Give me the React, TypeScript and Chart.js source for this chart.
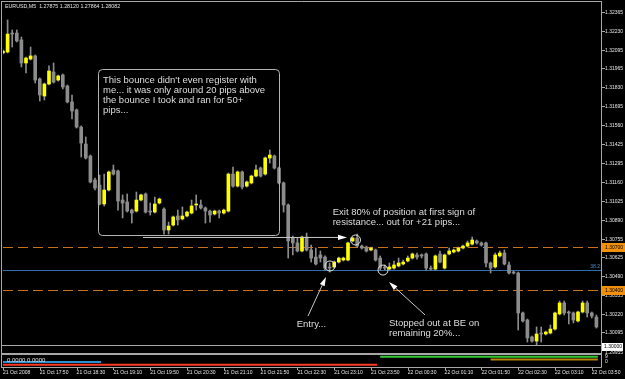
import React, { useEffect, useRef } from 'react';
import { Chart, registerables } from 'chart.js';

Chart.register(...registerables);

// ---------- DATA ----------
const opens = [
  1.32076, 1.32083, 1.32217, 1.32217, 1.32168, 1.32005, 1.32033, 1.32055, 1.31892, 1.31771,
  1.31856, 1.31941, 1.31884, 1.31920, 1.31842, 1.31729, 1.31672, 1.31551, 1.31431, 1.31346,
  1.31176, 1.31140, 1.31006, 1.31105, 1.31247, 1.31240, 1.31034, 1.31020, 1.30963, 1.30956,
  1.31034, 1.31077, 1.30956, 1.30949, 1.31013, 1.30970, 1.30822, 1.30857, 1.30921, 1.30900,
  1.30921, 1.30942, 1.30999, 1.30999, 1.30978, 1.30956, 1.30935, 1.30956, 1.30942, 1.30956,
  1.31218, 1.31133, 1.31233, 1.31133, 1.31155, 1.31204, 1.31261, 1.31218, 1.31332, 1.31346,
  1.31261, 1.31155, 1.30999, 1.30765, 1.30730, 1.30673, 1.30772, 1.30680, 1.30630, 1.30645,
  1.30630, 1.30560, 1.30560, 1.30595, 1.30609, 1.30609, 1.30744, 1.30765, 1.30708, 1.30701,
  1.30680, 1.30680, 1.30623, 1.30560, 1.30545, 1.30552, 1.30567, 1.30581, 1.30602, 1.30623,
  1.30645, 1.30645, 1.30652, 1.30552, 1.30545, 1.30652, 1.30552, 1.30652, 1.30666, 1.30673,
  1.30694, 1.30708, 1.30722, 1.30744, 1.30730, 1.30730, 1.30588, 1.30560, 1.30638, 1.30659,
  1.30574, 1.30524, 1.30517, 1.30234, 1.30184, 1.30064, 1.30035, 1.30092, 1.30085, 1.30092,
  1.30120, 1.30227, 1.30305, 1.30241, 1.30234, 1.30177, 1.30241, 1.30305, 1.30234, 1.30205,
];
const highs = [
  1.32097, 1.32310, 1.32239, 1.32239, 1.32189, 1.32047, 1.32118, 1.32062, 1.31899, 1.31863,
  1.31984, 1.32005, 1.31920, 1.31927, 1.31849, 1.31778, 1.31679, 1.31559, 1.31481, 1.31353,
  1.31190, 1.31211, 1.31218, 1.31240, 1.31282, 1.31247, 1.31070, 1.31077, 1.30970, 1.31091,
  1.31077, 1.31084, 1.31013, 1.31055, 1.31048, 1.30978, 1.30878, 1.30921, 1.30963, 1.30985,
  1.30956, 1.31034, 1.31070, 1.31034, 1.30985, 1.30963, 1.30963, 1.30963, 1.30970, 1.31226,
  1.31268, 1.31240, 1.31240, 1.31169, 1.31211, 1.31282, 1.31268, 1.31339, 1.31389, 1.31353,
  1.31268, 1.31162, 1.31006, 1.30779, 1.30765, 1.30779, 1.30800, 1.30715, 1.30694, 1.30673,
  1.30638, 1.30588, 1.30602, 1.30630, 1.30630, 1.30737, 1.30772, 1.30793, 1.30715, 1.30708,
  1.30701, 1.30687, 1.30638, 1.30574, 1.30588, 1.30602, 1.30623, 1.30609, 1.30638, 1.30659,
  1.30659, 1.30652, 1.30659, 1.30567, 1.30645, 1.30673, 1.30652, 1.30694, 1.30687, 1.30701,
  1.30715, 1.30744, 1.30772, 1.30751, 1.30737, 1.30737, 1.30595, 1.30659, 1.30673, 1.30680,
  1.30595, 1.30531, 1.30524, 1.30241, 1.30191, 1.30071, 1.30135, 1.30135, 1.30106, 1.30149,
  1.30241, 1.30319, 1.30319, 1.30248, 1.30241, 1.30248, 1.30319, 1.30319, 1.30241, 1.30220,
];
const lows = [
  1.32069, 1.32076, 1.32118, 1.32154, 1.31977, 1.31934, 1.32026, 1.31863, 1.31736, 1.31743,
  1.31849, 1.31863, 1.31877, 1.31821, 1.31722, 1.31608, 1.31544, 1.31339, 1.31325, 1.31155,
  1.31105, 1.30999, 1.30992, 1.31098, 1.31211, 1.30963, 1.30907, 1.30949, 1.30871, 1.30949,
  1.31027, 1.30942, 1.30928, 1.30942, 1.31006, 1.30793, 1.30793, 1.30850, 1.30857, 1.30893,
  1.30914, 1.30935, 1.30963, 1.30970, 1.30871, 1.30878, 1.30928, 1.30907, 1.30935, 1.30949,
  1.31126, 1.31126, 1.31112, 1.31126, 1.31148, 1.31197, 1.31197, 1.31211, 1.31296, 1.31254,
  1.31148, 1.30949, 1.30623, 1.30645, 1.30666, 1.30666, 1.30673, 1.30595, 1.30574, 1.30595,
  1.30538, 1.30524, 1.30552, 1.30588, 1.30602, 1.30602, 1.30737, 1.30701, 1.30687, 1.30666,
  1.30673, 1.30602, 1.30538, 1.30538, 1.30538, 1.30545, 1.30560, 1.30574, 1.30595, 1.30616,
  1.30616, 1.30623, 1.30538, 1.30538, 1.30538, 1.30588, 1.30545, 1.30645, 1.30659, 1.30666,
  1.30687, 1.30701, 1.30715, 1.30722, 1.30708, 1.30560, 1.30517, 1.30552, 1.30630, 1.30574,
  1.30510, 1.30510, 1.30113, 1.30170, 1.30028, 1.30028, 1.30007, 1.30028, 1.30078, 1.30085,
  1.30113, 1.30220, 1.30220, 1.30156, 1.30163, 1.30170, 1.30234, 1.30205, 1.30198, 1.30127,
];
const closes = [
  1.32090, 1.32210, 1.32210, 1.32161, 1.32005, 1.32040, 1.32055, 1.31884, 1.31778, 1.31856,
  1.31948, 1.31870, 1.31913, 1.31835, 1.31729, 1.31665, 1.31551, 1.31438, 1.31332, 1.31162,
  1.31119, 1.31006, 1.31105, 1.31233, 1.31218, 1.31027, 1.31013, 1.30956, 1.30942, 1.31034,
  1.31070, 1.30949, 1.30949, 1.31006, 1.31041, 1.30822, 1.30850, 1.30914, 1.30893, 1.30921,
  1.30949, 1.30992, 1.31006, 1.30978, 1.30956, 1.30928, 1.30956, 1.30942, 1.30963, 1.31218,
  1.31133, 1.31233, 1.31126, 1.31162, 1.31204, 1.31247, 1.31204, 1.31332, 1.31353, 1.31261,
  1.31155, 1.30999, 1.30744, 1.30730, 1.30673, 1.30772, 1.30680, 1.30623, 1.30581, 1.30623,
  1.30552, 1.30552, 1.30595, 1.30623, 1.30623, 1.30730, 1.30765, 1.30708, 1.30694, 1.30673,
  1.30694, 1.30609, 1.30552, 1.30552, 1.30560, 1.30574, 1.30588, 1.30595, 1.30623, 1.30652,
  1.30630, 1.30638, 1.30552, 1.30545, 1.30638, 1.30595, 1.30645, 1.30673, 1.30680, 1.30694,
  1.30708, 1.30730, 1.30751, 1.30730, 1.30715, 1.30588, 1.30552, 1.30645, 1.30659, 1.30581,
  1.30517, 1.30517, 1.30234, 1.30177, 1.30057, 1.30035, 1.30085, 1.30085, 1.30099, 1.30120,
  1.30234, 1.30305, 1.30234, 1.30234, 1.30184, 1.30241, 1.30305, 1.30234, 1.30212, 1.30135,
];

// M5 bar times, 21 Oct 17:10 onward (one extra slot for the right margin)
const barTimes: string[] = [];
for (let i = 0; i < 131; i++) {
  const t = 17 * 60 + 10 + 5 * i;
  const day = t >= 1440 ? 22 : 21;
  const m = t % 1440;
  barTimes.push(`${day} Oct ${String(Math.floor(m / 60)).padStart(2, '0')}:${String(m % 60).padStart(2, '0')}`);
}

const xTickLabels = [
  '21 Oct 2008', '21 Oct 17:50', '21 Oct 18:30', '21 Oct 19:10', '21 Oct 19:50', '21 Oct 20:30',
  '21 Oct 21:10', '21 Oct 21:50', '21 Oct 22:30', '21 Oct 23:10', '21 Oct 23:50', '22 Oct 00:30',
  '22 Oct 01:10', '22 Oct 01:50', '22 Oct 02:30', '22 Oct 03:10', '22 Oct 03:50',
];
const yTickValues = [
  1.32365, 1.32230, 1.32095, 1.31965, 1.31830, 1.31695, 1.31560, 1.31425, 1.31295,
  1.31160, 1.31025, 1.30890, 1.30755, 1.30625, 1.30490, 1.30355, 1.30220, 1.30095,
];
const Y_MIN = 1.30000;
const Y_MAX = 1.32430;

const dashedLevels = [1.30700, 1.30400];
const fibLevel = 1.30538;
const fibLabel = '38.2';
const markedPrices = [1.30700, 1.30400];
const bottomPrice = 1.30000;
const extraPriceLabel = 1.29955;

const headerText = 'EURUSD,M5  1.27875 1.28120 1.27864 1.28082';
const subText = '0.0000 0.0000';

// annotations in (bar index, price)
const noteBox = { from: [20.65, 1.31962], to: [60.07, 1.30786] };
const noteBoxText = ["This bounce didn't even register with", 'me... it was only around 20 pips above', 'the bounce I took and ran for 50+', 'pips...'];
const noteBoxTextAt = [21.74, 1.31884];
const exitText = ['Exit 80% of position at first sign of', 'resistance... out for +21 pips...'];
const exitTextAt = [71.67, 1.30944];
const entryText = ['Entry...'];
const entryTextAt = [63.85, 1.30156];
const stopText = ['Stopped out at BE on', 'remaining 20%...'];
const stopTextAt = [83.91, 1.30161];
const circles = [[76.63, 1.30751], [71.09, 1.30567], [82.61, 1.30538]];
const arrows = [
  { from: [30.43, 1.30769], to: [74.78, 1.30769] },
  { from: [66.3, 1.30212], to: [70.22, 1.30489] },
  { from: [91.74, 1.30220], to: [83.91, 1.30453] },
];

// sub-window indicator segments: [startBar, endBar]
const subSegments = [
  { range: [0, 21], color: '#2a8fd0', row: 3 },
  { range: [0, 81], color: '#ff3a24', row: 4 },
  { range: [82, 129], color: '#34c834', row: 1 },
  { range: [106, 129], color: '#b8860b', row: 2 },
];

// ---------- STYLE ----------
const SMALL_FONT = '"Liberation Sans", Arial, sans-serif';
const NOTE_FONT = '9.5px "Liberation Sans", Arial, sans-serif';
const AXIS_TEXT = '#e4e4e4';
const FRAME = '#a8a8a8';
const YELLOW = '#ffff00';
const GRAY = '#8c8c8c';
const ORANGE_LINE = '#c8701c';
const ORANGE_BOX = '#f0900c';
const BLUE_LINE = '#2f6ea8';
const NOTE_COLOR = '#dedede';
const CIRCLE_R = 5;

const mt4Plugin: any = {
  id: 'mt4',
  beforeDraw(chart: any) {
    const { ctx, width, height } = chart;
    ctx.save();
    ctx.fillStyle = '#000';
    ctx.fillRect(0, 0, width, height);
    ctx.restore();
  },
  beforeDatasetsDraw(chart: any) {
    const { ctx, chartArea: a, scales } = chart;
    const y = scales.y;
    ctx.save();
    ctx.beginPath();
    ctx.rect(a.left, a.top, a.right - a.left, a.bottom - a.top);
    ctx.clip();
    ctx.lineWidth = 1;
    ctx.strokeStyle = ORANGE_LINE;
    ctx.setLineDash([10, 5]);
    for (const v of dashedLevels) {
      const yy = Math.round(y.getPixelForValue(v)) + 0.5;
      ctx.beginPath();
      ctx.moveTo(a.left, yy);
      ctx.lineTo(a.right, yy);
      ctx.stroke();
    }
    ctx.setLineDash([]);
    ctx.strokeStyle = BLUE_LINE;
    const fy = Math.round(y.getPixelForValue(fibLevel)) + 0.5;
    ctx.beginPath();
    ctx.moveTo(a.left, fy);
    ctx.lineTo(a.right, fy);
    ctx.stroke();
    ctx.fillStyle = '#4a8ccc';
    ctx.font = `5px ${SMALL_FONT}`;
    ctx.textAlign = 'right';
    ctx.textBaseline = 'bottom';
    ctx.fillText(fibLabel, a.right - 1, fy - 1);
    ctx.restore();
  },
  afterDraw(chart: any) {
    const { ctx, chartArea: a, scales } = chart;
    const x = scales.x;
    const y = scales.y;
    const px = (i: number) => x.getPixelForValue(i);
    const py = (v: number) => y.getPixelForValue(v);
    const subTop = a.bottom + 7;
    const subBottom = a.bottom + 21;
    ctx.save();

    // bottom line of main window (price 1.30000)
    ctx.strokeStyle = FRAME;
    ctx.lineWidth = 1;
    const by = Math.round(py(bottomPrice)) - 0.5;
    ctx.beginPath(); ctx.moveTo(a.left - 2, by); ctx.lineTo(a.right, by); ctx.stroke();

    // frames
    ctx.beginPath();
    ctx.moveTo(a.left - 2, a.top - 1.5); ctx.lineTo(a.right + 0.5, a.top - 1.5);
    ctx.moveTo(a.left - 1.5, a.top - 2); ctx.lineTo(a.left - 1.5, subBottom + 0.5);
    ctx.moveTo(a.right + 0.5, a.top - 2); ctx.lineTo(a.right + 0.5, subBottom + 0.5);
    ctx.moveTo(a.left - 2, subBottom + 0.5); ctx.lineTo(a.right + 0.5, subBottom + 0.5);
    ctx.stroke();
    ctx.fillStyle = FRAME;
    ctx.fillRect(a.left - 2, subTop, a.right - a.left + 2, 2);

    // sub-window segments
    ctx.lineWidth = 2;
    for (const s of subSegments) {
      const yy = subTop + 1 + s.row * 2.7;
      ctx.strokeStyle = s.color;
      ctx.beginPath();
      ctx.moveTo(px(s.range[0]), yy);
      ctx.lineTo(px(s.range[1]) + 1.5, yy);
      ctx.stroke();
    }
    ctx.fillStyle = AXIS_TEXT;
    ctx.font = `6px ${SMALL_FONT}`;
    ctx.textAlign = 'left';
    ctx.textBaseline = 'middle';
    ctx.fillText(subText, a.left + 4, subTop + 7);
    ctx.font = `5px ${SMALL_FONT}`;
    ctx.fillText('9', a.right + 4, subTop + 4);
    ctx.fillText('0', a.right + 4, subTop + 9);

    // x tick marks
    ctx.strokeStyle = FRAME;
    ctx.lineWidth = 1;
    for (let k = 0; k < xTickLabels.length; k++) {
      const xx = Math.round(px(k * 8)) + 0.5;
      ctx.beginPath(); ctx.moveTo(xx, subBottom); ctx.lineTo(xx, subBottom + 3); ctx.stroke();
    }

    // header
    ctx.fillStyle = AXIS_TEXT;
    ctx.font = `5.3px ${SMALL_FONT}`;
    ctx.textAlign = 'left';
    ctx.textBaseline = 'middle';
    ctx.fillText(headerText, a.left + 2, a.top + 4);

    // price marks
    ctx.font = `5px ${SMALL_FONT}`;
    for (const v of markedPrices) {
      const yy = Math.round(py(v));
      ctx.fillStyle = ORANGE_BOX;
      ctx.fillRect(a.right + 1, yy - 4, 23, 9);
      ctx.fillStyle = '#000';
      ctx.fillText(v.toFixed(5), a.right + 4, yy + 0.5);
    }
    {
      const yy = Math.round(py(bottomPrice));
      ctx.fillStyle = '#ffffff';
      ctx.fillRect(a.right + 1, yy - 3, 21, 8);
      ctx.fillStyle = '#000';
      ctx.fillText(bottomPrice.toFixed(5), a.right + 3, yy + 1);
      ctx.fillStyle = AXIS_TEXT;
      const ey = py(extraPriceLabel);
      ctx.fillText(extraPriceLabel.toFixed(5), a.right + 4, ey);
    }

    // annotations
    ctx.strokeStyle = '#b4b4b4';
    ctx.lineWidth = 1;
    const bx0 = Math.round(px(noteBox.from[0])) + 0.5;
    const by0 = Math.round(py(noteBox.from[1])) + 0.5;
    const bx1 = Math.round(px(noteBox.to[0])) + 0.5;
    const by1 = Math.round(py(noteBox.to[1])) + 0.5;
    ctx.beginPath();
    (ctx as any).roundRect(bx0, by0, bx1 - bx0, by1 - by0, 4);
    ctx.stroke();

    ctx.font = NOTE_FONT;
    ctx.fillStyle = NOTE_COLOR;
    ctx.textAlign = 'left';
    ctx.textBaseline = 'middle';
    const drawLines = (lines: string[], at: number[]) => {
      const x0 = px(at[0]);
      const y0 = py(at[1]);
      lines.forEach((l, k) => ctx.fillText(l, x0, y0 + k * 10));
    };
    drawLines(noteBoxText, noteBoxTextAt);
    drawLines(exitText, exitTextAt);
    drawLines(entryText, entryTextAt);
    drawLines(stopText, stopTextAt);

    ctx.strokeStyle = '#e0e0e0';
    for (const c of circles) {
      ctx.beginPath();
      ctx.arc(px(c[0]), py(c[1]), CIRCLE_R, 0, Math.PI * 2);
      ctx.stroke();
    }
    ctx.fillStyle = '#ffffff';
    for (const ar of arrows) {
      const x0 = px(ar.from[0]), y0 = py(ar.from[1]);
      const x1 = px(ar.to[0]), y1 = py(ar.to[1]);
      const ang = Math.atan2(y1 - y0, x1 - x0);
      const len = 9, half = 2.6;
      const bxh = x1 - len * Math.cos(ang), byh = y1 - len * Math.sin(ang);
      ctx.strokeStyle = '#c8c8c8';
      ctx.beginPath(); ctx.moveTo(x0, y0); ctx.lineTo(bxh, byh); ctx.stroke();
      ctx.beginPath();
      ctx.moveTo(x1, y1);
      ctx.lineTo(bxh + half * Math.sin(ang), byh - half * Math.cos(ang));
      ctx.lineTo(bxh - half * Math.sin(ang), byh + half * Math.cos(ang));
      ctx.closePath();
      ctx.fill();
    }
    ctx.restore();
  },
};

export default function App() {
  const ref = useRef<HTMLCanvasElement>(null);
  useEffect(() => {
    document.body.style.margin = '0';
    document.body.style.background = '#000';
    const bodyColors = opens.map((o, i) => (closes[i] >= o ? YELLOW : GRAY));
    const chart = new Chart(ref.current as HTMLCanvasElement, {
      type: 'bar',
      data: {
        labels: barTimes,
        datasets: [
          {
            label: 'body',
            data: opens.map((o, i) => [o, closes[i]]) as any,
            backgroundColor: bodyColors,
            barThickness: 3,
            minBarLength: 1,
            grouped: false,
            order: 1,
            borderWidth: 0,
          },
          {
            label: 'wick',
            data: lows.map((l, i) => [l, highs[i]]) as any,
            backgroundColor: GRAY,
            barThickness: 1,
            grouped: false,
            order: 2,
            borderWidth: 0,
          },
        ],
      },
      options: {
        responsive: false,
        animation: false,
        layout: { padding: { left: 3, top: 3, right: 0, bottom: 0 } },
        plugins: { legend: { display: false }, tooltip: { enabled: false } },
        scales: {
          x: {
            type: 'category',
            offset: false,
            grid: { display: true, offset: false, drawOnChartArea: false, drawTicks: true, tickLength: 24, color: 'rgba(0,0,0,0)' },
            border: { display: false },
            ticks: {
              autoSkip: false,
              maxRotation: 0,
              minRotation: 0,
              align: 'start',
              padding: 0,
              color: AXIS_TEXT,
              font: { family: SMALL_FONT, size: 5, lineHeight: 1 },
              callback: (_v: any, i: number) => (i % 8 === 0 && xTickLabels[i / 8] ? xTickLabels[i / 8] : ''),
            },
            afterFit: (s: any) => { s.height = 33; },
          } as any,
          y: {
            type: 'linear',
            position: 'right',
            min: Y_MIN,
            max: Y_MAX,
            grid: { display: true, drawOnChartArea: false, drawTicks: true, tickLength: 4, color: FRAME },
            border: { display: false },
            ticks: {
              padding: 0,
              color: AXIS_TEXT,
              font: { family: SMALL_FONT, size: 5, lineHeight: 1 },
              callback: (v: any) => Number(v).toFixed(5),
            },
            afterBuildTicks: (s: any) => { s.ticks = yTickValues.map((v) => ({ value: v })); },
            afterFit: (s: any) => { s.width = 24; },
          } as any,
        },
      },
      plugins: [mt4Plugin],
    });
    return () => chart.destroy();
  }, []);
  return <canvas ref={ref} width={625} height={379} style={{ display: 'block', width: 625, height: 379 }} />;
}
